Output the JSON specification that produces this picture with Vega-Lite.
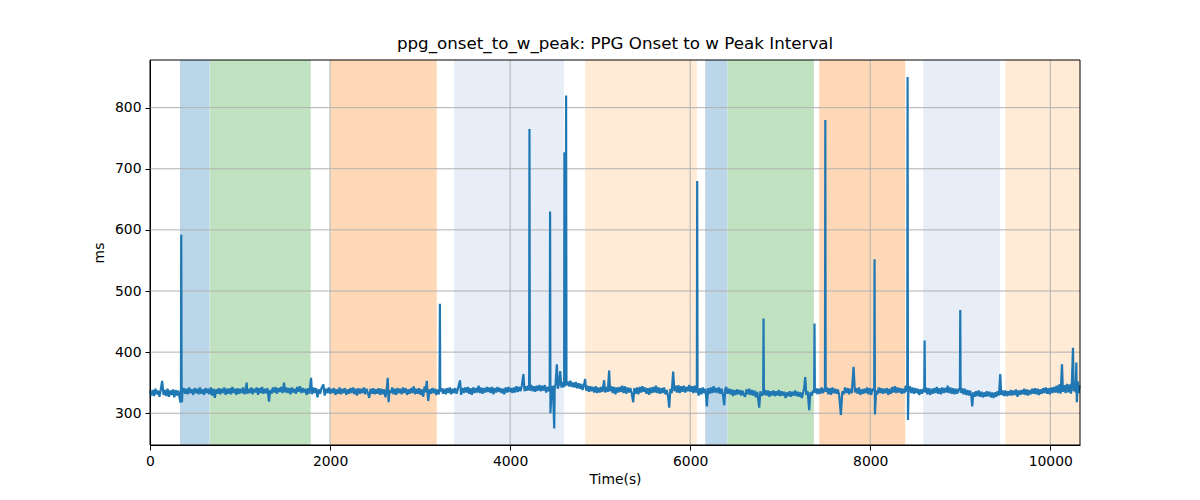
{
  "$schema": "https://vega.github.io/schema/vega-lite/v6.json",
  "width": 930,
  "height": 385,
  "autosize": {"type": "none"},
  "padding": {"left": 150, "top": 60, "right": 120, "bottom": 55},
  "background": "white",
  "title": {"text": "ppg_onset_to_w_peak: PPG Onset to w Peak Interval", "font": "DejaVu Sans", "fontSize": 16.7, "fontWeight": "normal", "color": "black", "offset": 7},
  "config": {
    "view": {"stroke": null},
    "axis": {"grid": false, "labelFlush": false, "domainColor": "black", "tickColor": "black", "labelColor": "black", "titleColor": "black", "labelFont": "DejaVu Sans", "labelFontSize": 13.9, "titleFont": "DejaVu Sans", "titleFontSize": 13.9, "titleFontWeight": "normal", "tickSize": 5, "labelPadding": 4, "domainWidth": 1, "tickWidth": 1}
  },
  "datasets": {
    "bands": [
      {"start": 333, "end": 663, "phase": "A"},
      {"start": 667, "end": 1785, "phase": "B"},
      {"start": 2003, "end": 3185, "phase": "C"},
      {"start": 3378, "end": 4597, "phase": "D"},
      {"start": 4833, "end": 6074, "phase": "E"},
      {"start": 6167, "end": 6415, "phase": "A"},
      {"start": 6415, "end": 7374, "phase": "B"},
      {"start": 7433, "end": 8389, "phase": "C"},
      {"start": 8589, "end": 9441, "phase": "D"},
      {"start": 9500, "end": 10330, "phase": "E"}
    ],
    "gx": [{"t": 2000}, {"t": 4000}, {"t": 6000}, {"t": 8000}, {"t": 10000}],
    "gy": [{"v": 300}, {"v": 400}, {"v": 500}, {"v": 600}, {"v": 700}, {"v": 800}],
    "frame": [{"a": 0}],
    "series": [
{"t":0,"v":336},{"t":15,"v":329},{"t":30,"v":338},{"t":45,"v":328},{"t":60,"v":340},{"t":75,"v":331},{"t":90,"v":337},{"t":105,"v":327},{"t":120,"v":339},{"t":135,"v":353},{"t":150,"v":330},{"t":165,"v":338},{"t":180,"v":328},{"t":195,"v":340},{"t":210,"v":327},{"t":225,"v":337},{"t":240,"v":330},{"t":255,"v":339},{"t":270,"v":326},{"t":285,"v":338},{"t":300,"v":329},{"t":315,"v":337},{"t":330,"v":324},{"t":340,"v":317},{"t":344,"v":333},{"t":347,"v":592},{"t":351,"v":335},{"t":355,"v":318},{"t":360,"v":334},
{"t":375,"v":341},{"t":390,"v":332},{"t":405,"v":340},{"t":420,"v":331},{"t":435,"v":342},{"t":450,"v":333},{"t":465,"v":339},{"t":480,"v":330},{"t":495,"v":341},{"t":510,"v":333},{"t":525,"v":340},{"t":540,"v":331},{"t":555,"v":342},{"t":570,"v":332},{"t":585,"v":339},{"t":600,"v":330},{"t":615,"v":341},{"t":630,"v":333},{"t":645,"v":340},{"t":660,"v":331},{"t":675,"v":342},{"t":690,"v":329},{"t":705,"v":340},{"t":720,"v":325},{"t":735,"v":339},{"t":750,"v":332},{"t":765,"v":341},{"t":780,"v":331},{"t":795,"v":340},{"t":810,"v":333},{"t":825,"v":342},{"t":840,"v":330},{"t":855,"v":340},{"t":870,"v":332},{"t":885,"v":341},{"t":900,"v":331},{"t":915,"v":343},{"t":930,"v":333},{"t":945,"v":340},{"t":960,"v":330},{"t":975,"v":341},{"t":990,"v":332},{"t":1005,"v":340},{"t":1020,"v":333},{"t":1035,"v":342},{"t":1050,"v":331},{"t":1065,"v":341},{"t":1074,"v":350},{"t":1080,"v":332},{"t":1095,"v":340},{"t":1110,"v":333},{"t":1125,"v":342},{"t":1140,"v":331},{"t":1155,"v":340},{"t":1170,"v":334},{"t":1185,"v":342},{"t":1200,"v":330},{"t":1215,"v":341},{"t":1230,"v":333},{"t":1245,"v":343},{"t":1260,"v":332},{"t":1275,"v":340},{"t":1290,"v":333},{"t":1305,"v":341},{"t":1322,"v":319},{"t":1335,"v":338},{"t":1350,"v":332},{"t":1365,"v":342},{"t":1380,"v":334},{"t":1395,"v":343},{"t":1410,"v":332},{"t":1425,"v":341},{"t":1440,"v":335},{"t":1455,"v":343},{"t":1470,"v":333},{"t":1489,"v":350},{"t":1500,"v":334},{"t":1515,"v":342},{"t":1530,"v":333},{"t":1545,"v":341},{"t":1560,"v":331},{"t":1575,"v":342},{"t":1590,"v":334},{"t":1605,"v":340},{"t":1620,"v":332},{"t":1635,"v":343},{"t":1650,"v":335},{"t":1665,"v":344},{"t":1680,"v":333},{"t":1695,"v":341},{"t":1710,"v":334},{"t":1725,"v":340},{"t":1740,"v":330},{"t":1755,"v":341},{"t":1770,"v":332},{"t":1789,"v":358},{"t":1800,"v":331},{"t":1815,"v":342},{"t":1830,"v":333},{"t":1845,"v":341},{"t":1860,"v":326},{"t":1875,"v":339},{"t":1890,"v":332},{"t":1905,"v":341},{"t":1926,"v":347},{"t":1940,"v":329},{"t":1955,"v":340},{"t":1970,"v":333},{"t":1985,"v":342},
{"t":2000,"v":332},{"t":2015,"v":340},{"t":2030,"v":333},{"t":2045,"v":341},{"t":2060,"v":330},{"t":2075,"v":339},{"t":2090,"v":332},{"t":2105,"v":342},{"t":2120,"v":331},{"t":2135,"v":340},{"t":2150,"v":333},{"t":2165,"v":341},{"t":2180,"v":330},{"t":2195,"v":339},{"t":2210,"v":332},{"t":2225,"v":341},{"t":2240,"v":333},{"t":2255,"v":342},{"t":2270,"v":331},{"t":2285,"v":340},{"t":2300,"v":329},{"t":2315,"v":341},{"t":2330,"v":332},{"t":2345,"v":340},{"t":2360,"v":333},{"t":2375,"v":342},{"t":2390,"v":331},{"t":2405,"v":340},{"t":2420,"v":333},{"t":2435,"v":325},{"t":2450,"v":340},{"t":2465,"v":332},{"t":2480,"v":341},{"t":2495,"v":331},{"t":2510,"v":339},{"t":2525,"v":332},{"t":2540,"v":341},{"t":2555,"v":330},{"t":2570,"v":340},{"t":2585,"v":331},{"t":2600,"v":339},{"t":2615,"v":326},{"t":2630,"v":340},{"t":2641,"v":358},{"t":2650,"v":318},{"t":2660,"v":337},{"t":2675,"v":333},{"t":2690,"v":342},{"t":2705,"v":331},{"t":2720,"v":340},{"t":2735,"v":330},{"t":2750,"v":341},{"t":2765,"v":333},{"t":2780,"v":340},{"t":2795,"v":331},{"t":2810,"v":342},{"t":2825,"v":333},{"t":2840,"v":341},{"t":2855,"v":330},{"t":2870,"v":339},{"t":2885,"v":332},{"t":2900,"v":341},{"t":2915,"v":333},{"t":2930,"v":344},{"t":2945,"v":331},{"t":2960,"v":340},{"t":2975,"v":332},{"t":2990,"v":341},{"t":3005,"v":330},{"t":3020,"v":339},{"t":3035,"v":327},{"t":3050,"v":344},{"t":3060,"v":334},{"t":3074,"v":353},{"t":3090,"v":320},{"t":3105,"v":339},{"t":3120,"v":332},{"t":3135,"v":341},{"t":3150,"v":333},{"t":3165,"v":340},{"t":3180,"v":330},{"t":3195,"v":339},{"t":3208,"v":331},{"t":3216,"v":338},{"t":3220,"v":479},{"t":3224,"v":336},
{"t":3240,"v":341},{"t":3255,"v":332},{"t":3270,"v":340},{"t":3285,"v":331},{"t":3300,"v":341},{"t":3315,"v":333},{"t":3330,"v":342},{"t":3345,"v":331},{"t":3360,"v":340},{"t":3375,"v":333},{"t":3390,"v":341},{"t":3405,"v":332},{"t":3420,"v":340},{"t":3444,"v":354},{"t":3455,"v":330},{"t":3470,"v":341},{"t":3485,"v":333},{"t":3500,"v":342},{"t":3515,"v":334},{"t":3530,"v":343},{"t":3545,"v":332},{"t":3560,"v":341},{"t":3575,"v":330},{"t":3590,"v":342},{"t":3605,"v":333},{"t":3620,"v":341},{"t":3635,"v":334},{"t":3650,"v":345},{"t":3665,"v":333},{"t":3680,"v":342},{"t":3695,"v":332},{"t":3710,"v":341},{"t":3725,"v":334},{"t":3740,"v":343},{"t":3755,"v":335},{"t":3770,"v":342},{"t":3785,"v":333},{"t":3800,"v":343},{"t":3815,"v":331},{"t":3830,"v":341},{"t":3845,"v":334},{"t":3860,"v":343},{"t":3875,"v":335},{"t":3890,"v":341},{"t":3905,"v":333},{"t":3920,"v":340},{"t":3935,"v":331},{"t":3950,"v":342},{"t":3965,"v":334},{"t":3980,"v":343},{"t":3995,"v":335},{"t":4010,"v":341},{"t":4025,"v":333},{"t":4040,"v":342},{"t":4055,"v":334},{"t":4070,"v":344},{"t":4085,"v":335},{"t":4100,"v":343},{"t":4115,"v":336},{"t":4130,"v":345},{"t":4148,"v":364},{"t":4160,"v":336},{"t":4175,"v":344},{"t":4190,"v":337},{"t":4200,"v":345},{"t":4211,"v":338},{"t":4215,"v":765},{"t":4219,"v":337},
{"t":4235,"v":346},{"t":4250,"v":336},{"t":4265,"v":344},{"t":4280,"v":335},{"t":4295,"v":345},{"t":4310,"v":337},{"t":4325,"v":346},{"t":4340,"v":336},{"t":4355,"v":345},{"t":4370,"v":337},{"t":4385,"v":346},{"t":4400,"v":334},{"t":4415,"v":343},{"t":4430,"v":336},{"t":4440,"v":338},{"t":4444,"v":630},{"t":4448,"v":300},{"t":4460,"v":338},{"t":4475,"v":345},{"t":4490,"v":275},{"t":4495,"v":340},{"t":4505,"v":348},{"t":4519,"v":380},{"t":4530,"v":340},{"t":4545,"v":349},{"t":4556,"v":369},{"t":4570,"v":342},{"t":4580,"v":351},{"t":4590,"v":343},{"t":4600,"v":345},{"t":4603,"v":727},{"t":4608,"v":344},{"t":4612,"v":350},{"t":4618,"v":345},{"t":4622,"v":820},{"t":4626,"v":346},
{"t":4640,"v":352},{"t":4655,"v":344},{"t":4670,"v":353},{"t":4685,"v":343},{"t":4700,"v":350},{"t":4715,"v":342},{"t":4730,"v":351},{"t":4745,"v":341},{"t":4760,"v":349},{"t":4775,"v":340},{"t":4790,"v":348},{"t":4805,"v":338},{"t":4820,"v":346},{"t":4833,"v":356},{"t":4845,"v":337},
{"t":4860,"v":345},{"t":4875,"v":335},{"t":4890,"v":344},{"t":4905,"v":336},{"t":4920,"v":343},{"t":4935,"v":334},{"t":4950,"v":344},{"t":4965,"v":333},{"t":4980,"v":342},{"t":4995,"v":334},{"t":5010,"v":343},{"t":5025,"v":335},{"t":5044,"v":354},{"t":5055,"v":334},{"t":5070,"v":343},{"t":5085,"v":335},{"t":5100,"v":370},{"t":5110,"v":336},{"t":5125,"v":344},{"t":5140,"v":333},{"t":5155,"v":343},{"t":5170,"v":331},{"t":5185,"v":342},{"t":5200,"v":334},{"t":5215,"v":343},{"t":5230,"v":335},{"t":5245,"v":345},{"t":5260,"v":333},{"t":5275,"v":344},{"t":5290,"v":332},{"t":5305,"v":342},{"t":5320,"v":334},{"t":5335,"v":341},{"t":5350,"v":333},{"t":5367,"v":318},{"t":5380,"v":341},{"t":5395,"v":332},{"t":5410,"v":342},{"t":5425,"v":331},{"t":5440,"v":343},{"t":5455,"v":334},{"t":5470,"v":344},{"t":5485,"v":335},{"t":5500,"v":342},{"t":5515,"v":332},{"t":5530,"v":341},{"t":5545,"v":330},{"t":5560,"v":342},{"t":5575,"v":333},{"t":5590,"v":343},{"t":5605,"v":334},{"t":5620,"v":345},{"t":5635,"v":333},{"t":5650,"v":342},{"t":5665,"v":332},{"t":5680,"v":341},{"t":5695,"v":333},{"t":5710,"v":342},{"t":5725,"v":331},{"t":5740,"v":338},{"t":5755,"v":327},{"t":5767,"v":309},{"t":5780,"v":340},{"t":5795,"v":333},{"t":5811,"v":368},{"t":5825,"v":336},{"t":5840,"v":345},{"t":5855,"v":334},{"t":5870,"v":346},{"t":5885,"v":333},{"t":5900,"v":344},{"t":5915,"v":335},{"t":5930,"v":345},{"t":5945,"v":334},{"t":5960,"v":343},{"t":5975,"v":336},{"t":5990,"v":346},{"t":6005,"v":335},{"t":6020,"v":344},{"t":6035,"v":333},{"t":6050,"v":345},{"t":6065,"v":334},{"t":6074,"v":338},{"t":6078,"v":680},{"t":6082,"v":336},
{"t":6095,"v":329},{"t":6110,"v":341},{"t":6125,"v":331},{"t":6140,"v":342},{"t":6155,"v":333},{"t":6170,"v":340},{"t":6185,"v":311},{"t":6200,"v":341},{"t":6215,"v":332},{"t":6230,"v":342},{"t":6245,"v":333},{"t":6260,"v":344},{"t":6275,"v":334},{"t":6290,"v":341},{"t":6305,"v":333},{"t":6320,"v":342},{"t":6335,"v":332},{"t":6350,"v":340},{"t":6365,"v":329},{"t":6378,"v":313},{"t":6390,"v":339},{"t":6400,"v":343},
{"t":6415,"v":332},{"t":6430,"v":340},{"t":6445,"v":331},{"t":6460,"v":339},{"t":6475,"v":328},{"t":6490,"v":338},{"t":6505,"v":330},{"t":6520,"v":339},{"t":6535,"v":331},{"t":6550,"v":338},{"t":6565,"v":329},{"t":6580,"v":337},{"t":6595,"v":330},{"t":6610,"v":327},{"t":6625,"v":339},{"t":6640,"v":331},{"t":6655,"v":340},{"t":6670,"v":330},{"t":6685,"v":338},{"t":6700,"v":329},{"t":6715,"v":337},{"t":6730,"v":326},{"t":6745,"v":335},{"t":6767,"v":309},{"t":6780,"v":336},{"t":6795,"v":329},{"t":6811,"v":332},{"t":6815,"v":455},{"t":6819,"v":330},{"t":6835,"v":338},{"t":6850,"v":329},{"t":6865,"v":337},{"t":6880,"v":327},{"t":6895,"v":336},{"t":6910,"v":329},{"t":6925,"v":337},{"t":6940,"v":328},{"t":6955,"v":336},{"t":6970,"v":329},{"t":6985,"v":338},{"t":7000,"v":328},{"t":7015,"v":336},{"t":7030,"v":329},{"t":7045,"v":335},{"t":7060,"v":325},{"t":7075,"v":334},{"t":7090,"v":328},{"t":7105,"v":336},{"t":7120,"v":327},{"t":7135,"v":335},{"t":7150,"v":329},{"t":7165,"v":337},{"t":7180,"v":328},{"t":7195,"v":335},{"t":7210,"v":327},{"t":7225,"v":334},{"t":7240,"v":325},{"t":7255,"v":334},{"t":7265,"v":340},{"t":7278,"v":359},{"t":7290,"v":330},{"t":7305,"v":336},{"t":7322,"v":305},{"t":7335,"v":334},{"t":7350,"v":329},{"t":7365,"v":337},{"t":7377,"v":334},{"t":7381,"v":447},{"t":7385,"v":333},
{"t":7400,"v":341},{"t":7415,"v":331},{"t":7430,"v":340},{"t":7445,"v":332},{"t":7460,"v":342},{"t":7475,"v":333},{"t":7490,"v":340},{"t":7497,"v":336},{"t":7501,"v":780},{"t":7505,"v":335},{"t":7520,"v":342},{"t":7535,"v":331},{"t":7550,"v":341},{"t":7565,"v":330},{"t":7580,"v":342},{"t":7595,"v":333},{"t":7610,"v":340},{"t":7625,"v":332},{"t":7640,"v":339},{"t":7655,"v":330},{"t":7674,"v":297},{"t":7690,"v":336},{"t":7705,"v":331},{"t":7720,"v":342},{"t":7735,"v":333},{"t":7750,"v":341},{"t":7765,"v":331},{"t":7780,"v":340},{"t":7795,"v":333},{"t":7815,"v":376},{"t":7830,"v":334},{"t":7845,"v":341},{"t":7860,"v":332},{"t":7875,"v":342},{"t":7890,"v":330},{"t":7905,"v":339},{"t":7920,"v":332},{"t":7935,"v":340},{"t":7950,"v":333},{"t":7965,"v":342},{"t":7980,"v":331},{"t":7995,"v":341},{"t":8010,"v":330},{"t":8025,"v":340},{"t":8044,"v":337},{"t":8048,"v":552},{"t":8052,"v":298},{"t":8065,"v":337},{"t":8080,"v":331},{"t":8095,"v":342},{"t":8110,"v":333},{"t":8125,"v":341},{"t":8140,"v":332},{"t":8155,"v":340},{"t":8170,"v":333},{"t":8185,"v":341},{"t":8200,"v":330},{"t":8215,"v":340},{"t":8230,"v":332},{"t":8245,"v":343},{"t":8260,"v":334},{"t":8275,"v":344},{"t":8290,"v":333},{"t":8305,"v":342},{"t":8320,"v":334},{"t":8335,"v":341},{"t":8350,"v":332},{"t":8365,"v":340},{"t":8380,"v":333},{"t":8395,"v":345},{"t":8405,"v":336},{"t":8411,"v":338},{"t":8413,"v":650},{"t":8415,"v":850},{"t":8419,"v":289},{"t":8425,"v":336},
{"t":8440,"v":344},{"t":8455,"v":333},{"t":8470,"v":342},{"t":8485,"v":332},{"t":8500,"v":341},{"t":8515,"v":333},{"t":8530,"v":340},{"t":8545,"v":330},{"t":8560,"v":339},{"t":8575,"v":332},{"t":8590,"v":340},{"t":8600,"v":335},{"t":8604,"v":419},{"t":8608,"v":334},{"t":8620,"v":342},{"t":8635,"v":331},{"t":8650,"v":341},{"t":8665,"v":330},{"t":8680,"v":340},{"t":8695,"v":332},{"t":8710,"v":341},{"t":8725,"v":333},{"t":8740,"v":343},{"t":8755,"v":332},{"t":8770,"v":341},{"t":8785,"v":331},{"t":8800,"v":342},{"t":8815,"v":333},{"t":8830,"v":341},{"t":8845,"v":334},{"t":8860,"v":345},{"t":8875,"v":333},{"t":8890,"v":342},{"t":8905,"v":332},{"t":8920,"v":341},{"t":8935,"v":331},{"t":8950,"v":340},{"t":8965,"v":332},{"t":8980,"v":339},{"t":8996,"v":338},{"t":9000,"v":469},{"t":9004,"v":333},{"t":9020,"v":341},{"t":9035,"v":331},{"t":9050,"v":340},{"t":9065,"v":330},{"t":9080,"v":338},
{"t":9095,"v":329},{"t":9110,"v":337},{"t":9125,"v":326},{"t":9133,"v":311},{"t":9145,"v":334},{"t":9160,"v":327},{"t":9175,"v":336},{"t":9190,"v":328},{"t":9205,"v":337},{"t":9220,"v":327},{"t":9235,"v":335},{"t":9250,"v":326},{"t":9265,"v":334},{"t":9280,"v":327},{"t":9295,"v":336},{"t":9310,"v":328},{"t":9325,"v":335},{"t":9340,"v":326},{"t":9355,"v":334},{"t":9370,"v":325},{"t":9385,"v":334},{"t":9400,"v":327},{"t":9415,"v":336},{"t":9430,"v":329},{"t":9444,"v":364},{"t":9455,"v":330},{"t":9470,"v":337},{"t":9485,"v":328},
{"t":9500,"v":337},{"t":9515,"v":328},{"t":9530,"v":336},{"t":9545,"v":329},{"t":9560,"v":338},{"t":9575,"v":329},{"t":9590,"v":337},{"t":9605,"v":330},{"t":9620,"v":339},{"t":9635,"v":327},{"t":9650,"v":337},{"t":9665,"v":330},{"t":9680,"v":338},{"t":9695,"v":331},{"t":9710,"v":340},{"t":9725,"v":330},{"t":9740,"v":339},{"t":9755,"v":329},{"t":9770,"v":338},{"t":9785,"v":331},{"t":9800,"v":340},{"t":9815,"v":332},{"t":9830,"v":341},{"t":9845,"v":331},{"t":9860,"v":340},{"t":9875,"v":330},{"t":9890,"v":339},{"t":9905,"v":332},{"t":9920,"v":341},{"t":9935,"v":333},{"t":9950,"v":342},{"t":9965,"v":332},{"t":9980,"v":341},{"t":9995,"v":331},
{"t":10010,"v":342},{"t":10025,"v":333},{"t":10040,"v":343},{"t":10055,"v":334},{"t":10070,"v":345},{"t":10085,"v":333},{"t":10100,"v":347},{"t":10115,"v":332},{"t":10130,"v":380},{"t":10140,"v":335},{"t":10155,"v":346},{"t":10170,"v":333},{"t":10185,"v":348},{"t":10200,"v":334},{"t":10215,"v":347},{"t":10230,"v":332},{"t":10240,"v":350},{"t":10252,"v":407},{"t":10260,"v":336},{"t":10275,"v":350},{"t":10282,"v":334},{"t":10289,"v":383},{"t":10295,"v":318},{"t":10305,"v":352},{"t":10315,"v":333},{"t":10325,"v":346}
    ]
  },
  "layer": [
    {
      "data": {"name": "bands"},
      "mark": {"type": "rect"},
      "encoding": {
        "x": {"field": "start", "type": "quantitative", "title": "Time(s)", "scale": {"domain": [0, 10330], "nice": false, "zero": false}, "axis": {"values": [0, 2000, 4000, 6000, 8000, 10000], "format": "d", "titlePadding": 5}},
        "x2": {"field": "end"},
        "color": {"field": "phase", "type": "nominal", "legend": null, "scale": {"domain": ["A", "B", "C", "D", "E"], "range": ["#bbd6e8", "#c0e2c0", "#ffd9b7", "#e7eef8", "#ffebd6"]}}
      }
    },
    {
      "data": {"name": "gx"},
      "mark": {"type": "rule", "color": "#b0b0b0", "strokeWidth": 1},
      "encoding": {
        "x": {"field": "t", "type": "quantitative", "title": "Time(s)", "scale": {"domain": [0, 10330], "nice": false, "zero": false}}
      }
    },
    {
      "data": {"name": "gy"},
      "mark": {"type": "rule", "color": "#b0b0b0", "strokeWidth": 1},
      "encoding": {
        "y": {"field": "v", "type": "quantitative", "title": "ms", "scale": {"domain": [248, 878], "nice": false, "zero": false}}
      }
    },
    {
      "data": {"name": "series"},
      "mark": {"type": "line", "color": "#1f77b4", "strokeWidth": 2.2, "strokeJoin": "miter", "strokeMiterLimit": 2},
      "encoding": {
        "x": {"field": "t", "type": "quantitative", "title": "Time(s)", "scale": {"domain": [0, 10330], "nice": false, "zero": false}},
        "y": {"field": "v", "type": "quantitative", "title": "ms", "scale": {"domain": [248, 878], "nice": false, "zero": false}, "axis": {"values": [300, 400, 500, 600, 700, 800], "titlePadding": 8}}
      }
    },
    {
      "data": {"name": "frame"},
      "mark": {"type": "rect", "fill": null, "fillOpacity": 0, "stroke": "black", "strokeWidth": 1},
      "encoding": {}
    }
  ]
}
